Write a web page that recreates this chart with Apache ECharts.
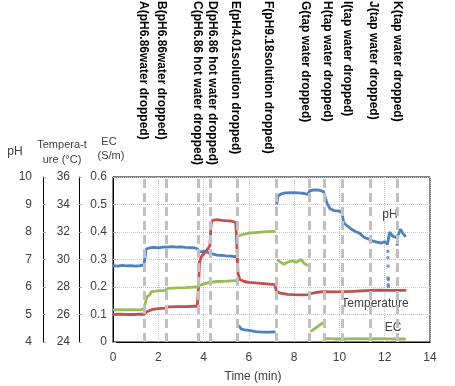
<!DOCTYPE html>
<html><head><meta charset="utf-8">
<script src="https://cdn.jsdelivr.net/npm/echarts@6/dist/echarts.min.js"></script>
<style>html,body{margin:0;padding:0;background:#fff}#c{width:455px;height:386px}</style>
</head><body><div id="c"></div>
<script>
// ---- data ----
const eventTimes = [1.38, 2.37, 3.75, 4.31, 5.49, 7.2, 8.66, 9.33, 10.14, 11.37, 12.55];
const eventLabels = ['A(pH6.86water dropped)','B(pH6.86water dropped)','C(pH6.86 hot water dropped)','D(pH6.86 hot water dropped)','E(pH4.01solution dropped)','F(pH9.18solution dropped)','G(tap water dropped)','H(tap water dropped)','I(tap water dropped)','J(tap water dropped)','K(tap water dropped)'];
const phData = [
[0,6.78],[0.2,6.76],[0.4,6.79],[0.6,6.77],[0.8,6.78],[1.0,6.76],[1.2,6.78],[1.36,6.8],
[1.42,7.1],[1.46,7.38],[1.6,7.42],[1.8,7.44],[2.0,7.42],[2.2,7.45],[2.4,7.45],[2.6,7.47],[2.8,7.45],[3.0,7.46],[3.2,7.44],[3.4,7.43],[3.6,7.42],[3.72,7.4],
[3.78,7.3],[3.9,7.28],[4.05,7.3],[4.2,7.25],[4.3,7.22],
[4.36,7.17],[4.6,7.16],[4.8,7.15],[5.0,7.13],[5.2,7.12],[5.45,7.1],
[5.5,null],
[5.55,4.6],[5.65,4.48],[5.8,4.44],[6.0,4.42],[6.3,4.38],[6.6,4.36],[6.9,4.36],[7.18,4.37],
[7.2,null],
[7.23,9.0],[7.28,9.3],[7.4,9.38],[7.6,9.42],[7.9,9.43],[8.2,9.42],[8.45,9.4],[8.62,9.37],
[8.68,9.5],[8.9,9.53],[9.1,9.52],[9.3,9.47],
[9.36,9.3],[9.44,9.07],[9.58,8.85],[9.75,8.78],[10.0,8.76],[10.12,8.7],
[10.18,8.35],[10.3,8.25],[10.5,8.12],[10.7,8.02],[10.9,7.95],[11.1,7.8],[11.3,7.74],
[11.45,7.68],[11.65,7.63],[11.85,7.6],[12.0,7.65],[12.12,7.55],[12.22,8.0],[12.35,7.85],[12.5,7.8],[12.6,7.9],[12.7,8.1],[12.8,7.95],[12.93,7.82]
];
const phDipData = [
[12.14,7.3],[12.14,7.06],[12.15,6.76],[12.15,6.33],[12.16,6.27],[12.16,6.08],[12.16,6.02],
[12.55,7.55],[12.55,7.18],[12.56,6.63]
];
const tempData = [
[0,26.0],[0.3,26.02],[0.6,26.0],[0.9,26.0],[1.2,26.02],[1.38,26.02],[1.5,26.2],[1.7,26.35],[2.0,26.42],[2.3,26.47],[2.45,26.55],[2.8,26.57],[3.2,26.58],[3.6,26.6],[3.72,26.6],
[3.76,27.5],[3.82,29.8],[3.9,30.2],[4.0,30.4],[4.15,30.7],[4.28,31.0],
[4.33,32.6],[4.4,32.85],[4.6,32.9],[4.8,32.85],[5.0,32.82],[5.2,32.8],[5.42,32.7],
[5.47,31.0],[5.52,29.0],[5.6,28.55],[5.8,28.4],[6.0,28.34],[6.4,28.28],[6.8,28.22],[7.15,28.17],
[7.22,27.65],[7.4,27.55],[7.7,27.47],[8.0,27.44],[8.3,27.43],[8.6,27.45],[8.7,27.5],[8.95,27.6],[9.3,27.67],[9.7,27.65],[10.2,27.66],[10.6,27.68],[11.0,27.72],[11.4,27.76],[11.8,27.77],[12.2,27.76],[12.6,27.76],[12.95,27.75]
];
const ecData = [
[0,0.117],[0.3,0.118],[0.6,0.117],[0.9,0.118],[1.2,0.117],[1.36,0.12],[1.42,0.14],[1.5,0.165],[1.6,0.17],[1.7,0.183],[2.0,0.186],[2.3,0.188],[2.42,0.195],[2.8,0.197],[3.2,0.198],[3.6,0.2],[3.74,0.2],[3.86,0.208],[4.1,0.213],[4.3,0.217],[4.6,0.22],[5.0,0.221],[5.45,0.223],
[5.49,null],
[5.52,0.385],[5.7,0.39],[6.0,0.396],[6.4,0.399],[6.8,0.401],[7.18,0.402],
[7.21,null],
[7.25,0.3],[7.4,0.29],[7.55,0.283],[7.7,0.29],[7.9,0.295],[8.1,0.29],[8.3,0.3],[8.45,0.285],[8.6,0.278],
[8.66,null],
[8.72,0.038],[8.9,0.048],[9.1,0.06],[9.28,0.07],
[9.33,null],
[9.38,0.012],[9.8,0.011],[10.3,0.011],[10.8,0.012],[11.3,0.011],[11.8,0.012],[12.3,0.011],[12.93,0.011]
];
// ---- layout (pixel nudges of the rotated event labels) ----
const labelNudgePx = [-1,-5,-1,2,-2,-8,-4,3,5,3,0];

const chart = echarts.init(document.getElementById('c'), null, {renderer:'canvas'});
const TXT = '#404040';
const FONT = '"Liberation Sans", Arial, sans-serif';
const gridLine = {show:true, lineStyle:{color:'#c4c4c4', type:'dotted', width:1}};
function yAx(min,max,interval,offset,margin,split){
  return {type:'value', min, max, interval, position:'left', offset,
    axisLine:{show:true, onZero:false, lineStyle:{color:'#000', width:1}},
    axisTick:{show:true, inside:true, length:3, lineStyle:{color:'#aaa'}},
    axisLabel:{color:TXT, fontSize:12, fontFamily:FONT, margin},
    splitLine: split ? gridLine : {show:false}};
}
const option = {
  animation:false,
  backgroundColor:'#fff',
  grid:{left:113, right:25, top:177, bottom:44, show:true, borderColor:'#000', borderWidth:1, backgroundColor:'transparent'},
  xAxis:{type:'value', min:0, max:14, interval:2,
    axisLine:{show:true, onZero:false, lineStyle:{color:'#000'}},
    axisTick:{show:false},
    axisLabel:{color:TXT, fontSize:12, fontFamily:FONT, margin:10},
    splitLine:gridLine},
  yAxis:[yAx(0,0.6,0.1,0,6,true), yAx(24,36,2,34,9,false), yAx(4,10,1,70,11,false)],
  series:[
    {name:'pH', type:'line', yAxisIndex:2, data:phData, showSymbol:false, connectNulls:false,
     lineStyle:{color:'#4F81BD', width:2.8}, itemStyle:{color:'#4F81BD'},
     markLine:{silent:true, symbol:'none', label:{show:false}, animation:false,
       lineStyle:{color:'#c0c0c0', type:[9,5], width:3},
       data:eventTimes.map(t=>({xAxis:t}))}},
    {name:'pH dips', type:'scatter', yAxisIndex:2, data:phDipData, symbolSize:3.5,
     itemStyle:{color:'#4F81BD'}},
    {name:'Temperature', type:'line', yAxisIndex:1, data:tempData, showSymbol:false,
     lineStyle:{color:'#C0504D', width:2.8}, itemStyle:{color:'#C0504D'}},
    {name:'EC', type:'line', yAxisIndex:0, data:ecData, showSymbol:false, connectNulls:false,
     lineStyle:{color:'#9BBB59', width:2.8}, itemStyle:{color:'#9BBB59'}}
  ]
};
chart.setOption(option);

function txt(x,y,text,extra){
  return Object.assign({type:'text', x, y, silent:true,
    style:Object.assign({text, fill:TXT, font:'12px '+FONT, textAlign:'center', textVerticalAlign:'middle'}, extra||{})});
}
const g = [];
eventTimes.forEach((t,i)=>{
  const px = chart.convertToPixel({xAxisIndex:0}, t) + labelNudgePx[i];
  g.push({type:'text', x:px, y:1, rotation:-Math.PI/2, silent:true,
    style:{text:eventLabels[i], fill:'#000', font:'bold 12px '+FONT, textAlign:'left', textVerticalAlign:'middle'}});
});
g.push(txt(15,152,'pH'));
g.push(txt(62,145,'Tempera-t',{font:'11px '+FONT}));
g.push(txt(62,160,'ure (°C)',{font:'11px '+FONT}));
g.push(txt(109,142,'EC',{font:'11px '+FONT}));
g.push(txt(111,156,'(S/m)',{font:'11px '+FONT}));
g.push(txt(390,215,'pH'));
g.push(txt(375,304,'Temperature'));
g.push(txt(393,328,'EC'));
g.push(txt(253,377,'Time (min)'));
chart.setOption({graphic:g});
</script>
</body></html>
